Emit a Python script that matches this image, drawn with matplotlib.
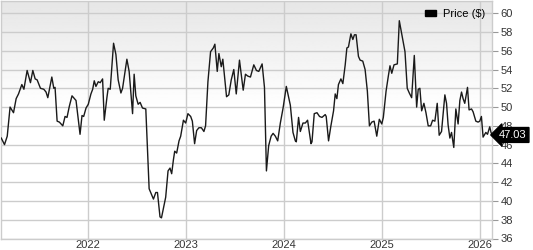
import numpy as np
import matplotlib
matplotlib.use("Agg")
import matplotlib.pyplot as plt
from matplotlib.patches import Patch

# time as decimal years, price in dollars
years = [
    2021.112, 2021.145, 2021.173, 2021.202, 2021.237, 2021.264, 2021.288, 2021.322,
    2021.343, 2021.376, 2021.410, 2021.434, 2021.458, 2021.478, 2021.512, 2021.546,
    2021.569, 2021.587, 2021.628, 2021.648, 2021.661, 2021.682, 2021.705, 2021.740,
    2021.763, 2021.783, 2021.807, 2021.834, 2021.875, 2021.892, 2021.916, 2021.936,
    2021.953, 2021.977,
    2022.000, 2022.027, 2022.045, 2022.061, 2022.078, 2022.102, 2022.122, 2022.146,
    2022.163, 2022.190, 2022.203, 2022.224, 2022.258, 2022.282, 2022.305, 2022.333,
    2022.350, 2022.394, 2022.417, 2022.452, 2022.468, 2022.485, 2022.509, 2022.529,
    2022.553, 2022.587, 2022.621, 2022.665, 2022.689, 2022.706, 2022.732, 2022.747,
    2022.773, 2022.790, 2022.814, 2022.834, 2022.851, 2022.869, 2022.882, 2022.902,
    2022.926, 2022.943, 2022.971, 2022.994,
    2023.017, 2023.045, 2023.062, 2023.085, 2023.106, 2023.129, 2023.154, 2023.180,
    2023.197, 2023.221, 2023.248, 2023.276, 2023.292, 2023.316, 2023.333, 2023.357,
    2023.373, 2023.411, 2023.434, 2023.459, 2023.485, 2023.510, 2023.543, 2023.581,
    2023.604, 2023.628, 2023.655, 2023.689, 2023.716, 2023.740, 2023.774, 2023.798,
    2023.818, 2023.841, 2023.866, 2023.886, 2023.909, 2023.933, 2023.960, 2023.988,
    2024.021, 2024.062, 2024.089, 2024.113, 2024.123, 2024.146, 2024.164, 2024.191,
    2024.215, 2024.238, 2024.273, 2024.283, 2024.306, 2024.334, 2024.360, 2024.385,
    2024.418, 2024.428, 2024.452, 2024.476, 2024.503, 2024.520, 2024.537, 2024.553,
    2024.578, 2024.598, 2024.622, 2024.639, 2024.655, 2024.680, 2024.700, 2024.716,
    2024.733, 2024.757, 2024.774, 2024.801, 2024.825, 2024.848, 2024.869, 2024.893,
    2024.917, 2024.944, 2024.970, 2024.995,
    2025.011, 2025.039, 2025.062, 2025.079, 2025.097, 2025.120, 2025.154, 2025.174,
    2025.209, 2025.232, 2025.255, 2025.276, 2025.300, 2025.327, 2025.351, 2025.367,
    2025.384, 2025.402, 2025.425, 2025.446, 2025.469, 2025.494, 2025.514, 2025.537,
    2025.561, 2025.581, 2025.605, 2025.639, 2025.656, 2025.672, 2025.690, 2025.707,
    2025.730, 2025.751, 2025.774, 2025.792, 2025.809, 2025.825, 2025.842, 2025.870,
    2025.886, 2025.911, 2025.927, 2025.955, 2025.978, 2025.995,
    2026.012, 2026.029, 2026.057, 2026.074, 2026.097, 2026.110, 2026.122,
]
price = [
    46.7, 46.0, 46.9, 50.0, 49.4, 50.9, 51.4, 52.4,
    51.9, 53.9, 52.6, 53.9, 53.0, 52.9, 52.0, 51.9,
    51.6, 51.0, 53.2, 52.0, 52.1, 48.5, 48.4, 48.0,
    49.0, 48.9, 50.1, 51.2, 50.7, 49.2, 47.1, 49.1,
    49.0, 49.9,
    50.3, 51.4, 51.9, 52.8, 52.2, 52.7, 52.6, 53.0,
    48.6, 51.0, 52.0, 51.9, 56.8, 55.6, 52.9, 51.5,
    52.0, 55.1, 53.8, 49.3, 53.5, 51.2, 50.3, 50.5,
    49.9, 49.8, 41.3, 40.2, 40.9, 40.9, 38.3, 38.2,
    39.5, 40.4, 43.2, 43.5, 42.9, 44.4, 45.3, 45.1,
    46.4, 46.9, 48.6, 48.3,
    49.3, 49.0, 48.5, 46.1, 47.5, 47.8, 47.8, 47.4,
    48.0, 52.7, 55.9, 56.3, 56.7, 53.8, 55.7, 54.3,
    55.1, 51.1, 51.3, 52.9, 54.0, 51.4, 55.0, 51.8,
    53.5, 53.3, 53.2, 54.5, 53.9, 53.8, 54.6, 52.1,
    43.2, 45.9, 46.9, 47.2, 46.9, 46.4, 48.3, 49.9,
    52.2, 50.2, 47.3, 46.4, 46.3, 48.9, 47.4, 48.3,
    48.3, 48.6, 46.1, 46.3, 49.3, 49.4, 49.0, 48.9,
    49.2, 49.0, 46.4, 48.0, 49.6, 51.4, 50.9, 52.4,
    53.0, 52.5, 54.5, 56.3, 56.4, 57.8, 57.2, 57.7,
    57.7, 55.4, 55.0, 54.9, 54.0, 51.7, 48.0, 48.4,
    48.5, 46.9, 48.7, 48.2,
    48.9, 51.7, 53.3, 54.4, 53.6, 54.5, 54.6, 59.2,
    57.2, 55.9, 52.0, 51.5, 51.0, 55.5, 50.0, 51.9,
    52.0, 49.6, 50.4, 49.4, 48.0, 48.0, 48.6, 48.5,
    50.4, 47.0, 47.4, 51.3, 50.4, 48.1, 46.7, 47.3,
    45.7, 49.8, 48.2, 50.7, 51.6, 50.9, 50.4, 52.1,
    49.7, 49.8, 49.5, 48.5, 48.4, 48.5,
    49.0, 46.8, 47.3, 47.1, 47.9, 47.3, 47.03,
]
year_ticks = [2022, 2023, 2024, 2025, 2026]
price_ticks = list(range(36, 61, 2))
last_price = 47.03

fig = plt.figure(figsize=(5.33, 2.5), dpi=100)
ax = fig.add_axes([0.002, 0.046, 0.922, 0.950])

# grey-to-white gradient in the upper part of the plot
t = np.linspace(0, 1, 256)
grad = np.where(t < 0.45, 0.90 + 0.10 * (t / 0.45), 1.0).reshape(-1, 1)
ax.imshow(grad, extent=[0, 1, 0, 1], transform=ax.transAxes, cmap="gray",
          vmin=0, vmax=1, aspect="auto", origin="upper", zorder=0)

ax.plot(years, price, color="#1a1a1a", linewidth=1.0, zorder=3)

ax.set_xlim(2021.11, 2026.125)
ax.set_ylim(36, 61.3)
ax.set_xticks(year_ticks)
ax.set_xticklabels([str(y) for y in year_ticks])
ax.set_yticks(price_ticks)
ax.yaxis.tick_right()
ax.grid(True, color="#cccccc", linewidth=1.0, zorder=1)
ax.set_axisbelow(True)

for s in ax.spines.values():
    s.set_color("#cccccc")
    s.set_linewidth(1.0)

ax.tick_params(axis="y", length=4, width=0.8, color="#999999", pad=2,
               labelsize=8, labelcolor="#333333")
ax.tick_params(axis="x", length=0, pad=1, labelsize=8, labelcolor="#333333")
for lab in ax.get_xticklabels() + ax.get_yticklabels():
    lab.set_family("Liberation Sans")

ax.legend(handles=[Patch(facecolor="black", edgecolor="black", label="Price ($)")],
          loc="upper right", bbox_to_anchor=(1.005, 1.01), frameon=False,
          handlelength=1.0, handleheight=0.5, handletextpad=0.6,
          prop={"family": "Liberation Sans", "size": 8})

ax.annotate(f"{last_price:.2f}", xy=(1.0, last_price), xycoords=("axes fraction", "data"),
            xytext=(1.013, last_price), textcoords=("axes fraction", "data"),
            va="center", ha="left", color="white", fontsize=8, family="Liberation Sans",
            bbox=dict(boxstyle="larrow,pad=0.22", facecolor="black", edgecolor="black"),
            annotation_clip=False, zorder=5)

fig.savefig("out.png", dpi=100)
